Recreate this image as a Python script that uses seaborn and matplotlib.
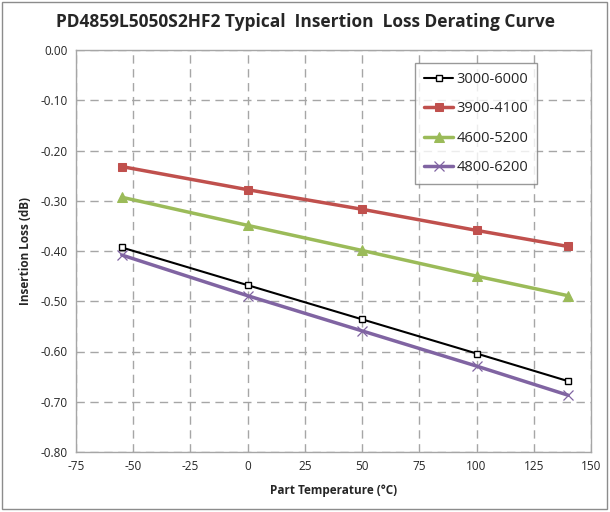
import matplotlib
matplotlib.use("Agg")
import matplotlib.pyplot as plt
import seaborn as sns
import pandas as pd
from matplotlib.patches import Rectangle

# part temperature (C)
temps = [-55, 0, 50, 100, 140]
# insertion loss (dB) per frequency band
loss_3000_6000 = [-0.393, -0.468, -0.536, -0.604, -0.659]
loss_3900_4100 = [-0.232, -0.278, -0.317, -0.359, -0.391]
loss_4600_5200 = [-0.293, -0.349, -0.399, -0.450, -0.489]
loss_4800_6200 = [-0.408, -0.489, -0.559, -0.629, -0.687]

bands = ["3000-6000", "3900-4100", "4600-5200", "4800-6200"]
xticks = [-75, -50, -25, 0, 25, 50, 75, 100, 125, 150]
yticks = [0.0, -0.1, -0.2, -0.3, -0.4, -0.5, -0.6, -0.7, -0.8]

rows = []
for band, vals in zip(bands, [loss_3000_6000, loss_3900_4100, loss_4600_5200, loss_4800_6200]):
    for t, v in zip(temps, vals):
        rows.append({"temp": t, "loss": v, "band": band})
df = pd.DataFrame(rows)

sns.set_style("white")
plt.rcParams['font.family'] = ['Open Sans', 'DejaVu Sans']

fig = plt.figure(figsize=(6.1, 5.12), dpi=100)
ax = fig.add_axes([76 / 610, 1 - 452 / 512, 515 / 610, 402 / 512])

colors = {"3000-6000": "#000000", "3900-4100": "#C0504D",
          "4600-5200": "#9BBB59", "4800-6200": "#8064A2"}
styles = {
    "3000-6000": dict(marker="s", lw=1.5, ms=4.5, mfc="white", mec="black", mew=1.0),
    "3900-4100": dict(marker="s", lw=2.5, ms=6, mfc="#C0504D", mec="#C0504D"),
    "4600-5200": dict(marker="^", lw=2.5, ms=6.5, mfc="#9BBB59", mec="#9BBB59"),
    "4800-6200": dict(marker="x", lw=2.5, ms=7, mec="#8064A2", mew=0.9),
}

for band in bands:
    sub = df[df["band"] == band]
    sns.lineplot(data=sub, x="temp", y="loss", ax=ax, color=colors[band],
                 label=band, **styles[band])

ax.set_xlim(-75, 150)
ax.set_ylim(-0.8, 0.0)
ax.set_xticks(xticks)
ax.set_yticks(yticks)
ax.set_yticklabels([f"{v:.2f}" for v in yticks], fontsize=8.5)
ax.set_xticklabels([str(v) for v in xticks], fontsize=8.5)
ax.tick_params(length=0, pad=6)
ax.grid(True, color="#A6A6A6", ls=(0, (6, 4)), lw=1.0)
for s in ax.spines.values():
    s.set_color("#A6A6A6")
    s.set_linewidth(1.0)

ax.set_xlabel("Part Temperature (°C)", fontsize=8.5, fontweight="bold", labelpad=8)
ax.set_ylabel("Insertion Loss (dB)", fontsize=8.5, fontweight="bold", labelpad=6)

fig.text(0.5, 1 - 22 / 512, "PD4859L5050S2HF2 Typical  Insertion  Loss Derating Curve",
         ha="center", va="center", fontsize=12.5, fontweight="bold")

leg = ax.legend(loc="upper right", bbox_to_anchor=(0.895, 0.968), fontsize=10.5,
                frameon=True, fancybox=False, handlelength=2.0, borderaxespad=0,
                labelspacing=1.0, borderpad=0.6, handletextpad=0.2)
leg.get_frame().set_edgecolor("#808080")
leg.get_frame().set_linewidth(1.0)

fig.patches.append(Rectangle((2 / 610, 3 / 512), 605 / 610, 507 / 512,
                             transform=fig.transFigure, fill=False,
                             edgecolor="#8C8C8C", lw=1.0))

fig.savefig("out.png", dpi=100)
